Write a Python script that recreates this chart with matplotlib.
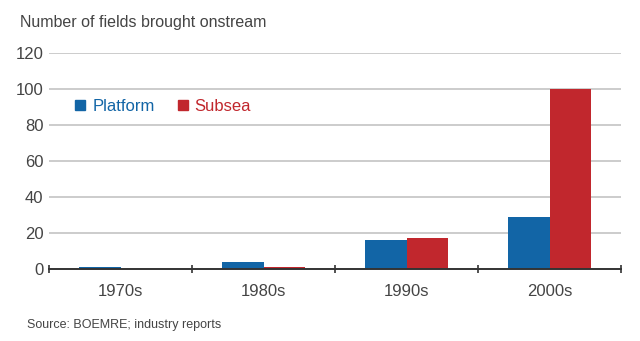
import matplotlib.pyplot as plt
from matplotlib.lines import Line2D
import numpy as np

decades = ['1970s', '1980s', '1990s', '2000s']
platform = [1, 4, 16, 29]
subsea = [0, 1, 17, 100]

blue = '#1265a6'
red = '#c1272d'
grey_text = '#444444'

plt.rcParams['font.family'] = ['Liberation Sans', 'DejaVu Sans']

fig = plt.figure(figsize=(6.4, 3.41), dpi=100)
ax = fig.add_axes([0.0766, 0.211, 0.894, 0.634])

x = np.arange(len(decades))
w = 0.29
ax.bar(x - w / 2, platform, w, color=blue, zorder=3)
ax.bar(x + w / 2, subsea, w, color=red, zorder=3)

ax.set_xlim(-0.5, len(decades) - 0.5)
ax.set_ylim(0, 120)
ax.set_yticks(range(0, 121, 20))
ax.set_xticks(x)
ax.set_xticklabels(decades)
ax.set_xticks(np.arange(-0.5, len(decades), 1), minor=True)
ax.tick_params(axis='x', which='major', length=0, labelsize=12, colors=grey_text, pad=11)
ax.tick_params(axis='x', which='minor', length=6, direction='inout', width=1.2, color='#333333')
ax.tick_params(axis='y', length=0, labelsize=12, colors=grey_text, pad=4)
ax.grid(axis='y', color='#cccccc', linewidth=1.4, zorder=0)
for s in ['top', 'right', 'left']:
    ax.spines[s].set_visible(False)
ax.spines['bottom'].set_color('#333333')
ax.spines['bottom'].set_linewidth(1.4)
ax.spines['bottom'].set_zorder(4)

handles = [Line2D([], [], marker='s', linestyle='none', color=blue, markersize=7),
           Line2D([], [], marker='s', linestyle='none', color=red, markersize=7)]
leg = ax.legend(handles, ['Platform', 'Subsea'], loc='upper left', bbox_to_anchor=(0.02, 0.855),
                ncol=2, frameon=False, fontsize=12, handlelength=0.6, handletextpad=0.4,
                columnspacing=1.4)
leg.get_texts()[0].set_color(blue)
leg.get_texts()[1].set_color(red)

fig.text(0.031, 0.935, 'Number of fields brought onstream', fontsize=11.5, color=grey_text,
         va='center', ha='left')
fig.text(0.042, 0.048, 'Source: BOEMRE; industry reports', fontsize=9, color=grey_text,
         va='center', ha='left')

plt.savefig('out.png', dpi=100)
